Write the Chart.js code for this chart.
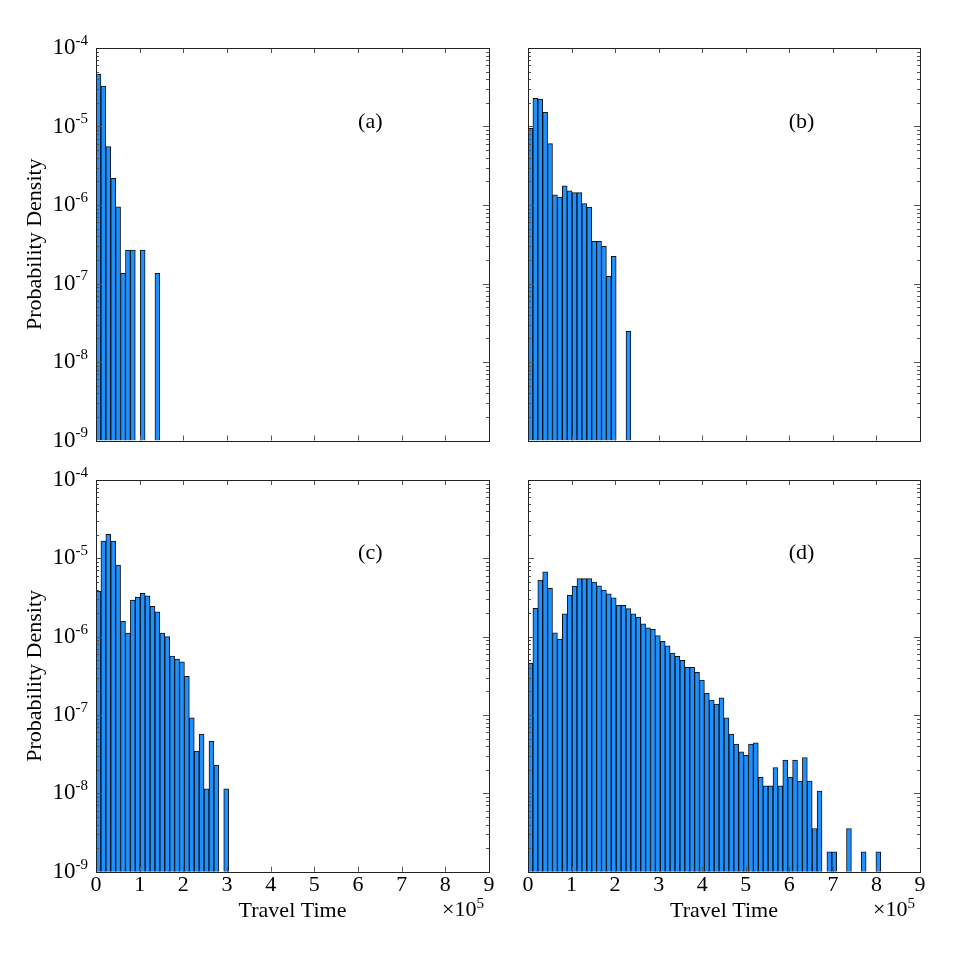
<!DOCTYPE html>
<html>
<head>
<meta charset="utf-8">
<script src="https://cdn.jsdelivr.net/npm/chart.js@4.4.0/dist/chart.umd.min.js"></script>
<style>
  html, body { margin: 0; background: #fff; }
  #wrap { position: relative; width: 969px; height: 969px; }
  #wrap canvas { position: absolute; left: 0; top: 0; }
</style>
</head>
<body>
<div id="wrap">
  <canvas id="pa" width="969" height="969"></canvas>
  <canvas id="pb" width="969" height="969"></canvas>
  <canvas id="pc" width="969" height="969"></canvas>
  <canvas id="pd" width="969" height="969"></canvas>
</div>
<script>
// histogram bins: 80 bins over 0 .. 9e5
const binWidth = 11250;
const xTickValues = [0, 1, 2, 3, 4, 5, 6, 7, 8, 9];   // in units of 1e5
const yDecades = [-9, -8, -7, -6, -5, -4];

// probability density per bin (null = empty bin)
const seriesA = [4.67e-5, 3.28e-5, 5.53e-6, 2.19e-6, 9.5e-7, 1.35e-7, 2.67e-7, 2.67e-7,
  null, 2.67e-7, null, null, 1.35e-7];
const seriesB = [9.5e-6, 2.29e-5, 2.24e-5, 1.51e-5, 6.04e-6, 1.35e-6, 1.26e-6, 1.75e-6,
  1.52e-6, 1.44e-6, 1.44e-6, 1.04e-6, 9.4e-7, 3.44e-7, 3.44e-7, 2.97e-7, 1.23e-7, 2.22e-7,
  null, null, 2.46e-8];
const seriesC = [3.82e-6, 1.66e-5, 2.02e-5, 1.66e-5, 8.2e-6, 1.57e-6, 1.11e-6, 2.93e-6,
  3.2e-6, 3.57e-6, 3.33e-6, 2.44e-6, 2.08e-6, 1.11e-6, 1.0e-6, 5.65e-7, 5.17e-7, 4.78e-7,
  3.11e-7, 9.2e-8, 3.46e-8, 5.7e-8, 1.14e-8, 4.6e-8, 2.29e-8, null, 1.14e-8];
const seriesD = [4.6e-7, 2.3e-6, 5.28e-6, 6.75e-6, 4.13e-6, 1.12e-6, 9.3e-7, 1.96e-6,
  3.37e-6, 4.43e-6, 5.5e-6, 5.5e-6, 5.5e-6, 4.98e-6, 4.47e-6, 3.94e-6, 3.53e-6, 3.14e-6,
  2.51e-6, 2.52e-6, 2.28e-6, 1.96e-6, 1.78e-6, 1.46e-6, 1.3e-6, 1.24e-6, 1.03e-6, 8.7e-7,
  7.66e-7, 6.18e-7, 5.6e-7, 4.98e-7, 4.06e-7, 4.06e-7, 3.5e-7, 2.79e-7, 1.89e-7, 1.55e-7,
  1.38e-7, 1.66e-7, 9.2e-8, 5.7e-8, 4.25e-8, 3.39e-8, 3.05e-8, 4.25e-8, 4.4e-8, 1.6e-8,
  1.25e-8, 1.25e-8, 2.14e-8, 1.25e-8, 2.65e-8, 1.6e-8, 2.65e-8, 1.43e-8, 2.87e-8, 1.43e-8,
  3.56e-9, 1.07e-8, null, 1.79e-9, 1.79e-9, null, null, 3.56e-9, null, null, 1.79e-9,
  null, null, 1.79e-9];

const SERIF = '"Liberation Serif", "Times New Roman", Times, serif';

function toPoints(vals) {
  return vals.map((v, i) => v == null ? null : { x: (i + 0.5) * binWidth, y: v })
    .filter(p => p);
}

// frame, inward ticks and all the text around a panel
const framePlugin = {
  id: 'frame',
  afterDatasetsDraw(chart, args, opts) {
    const { ctx, chartArea: a, scales: { x, y } } = chart;
    ctx.save();

    ctx.strokeStyle = '#555';
    ctx.lineWidth = 1;
    ctx.beginPath();
    xTickValues.forEach(t => {
      const px = Math.round(x.getPixelForValue(t * 1e5)) + 0.5;
      ctx.moveTo(px, a.bottom); ctx.lineTo(px, a.bottom - 5);
      ctx.moveTo(px, a.top); ctx.lineTo(px, a.top + 5);
    });
    yDecades.forEach(d => {
      for (let k = 1; k < 10; k++) {
        if (d === -4 && k > 1) break;
        const py = Math.round(y.getPixelForValue(k * Math.pow(10, d))) + 0.5;
        const len = k === 1 ? 6 : 3;
        ctx.moveTo(a.left, py); ctx.lineTo(a.left + len, py);
        ctx.moveTo(a.right, py); ctx.lineTo(a.right - len, py);
      }
    });
    ctx.stroke();

    ctx.strokeStyle = '#222';
    ctx.strokeRect(Math.round(a.left) + 0.5, Math.round(a.top) + 0.5,
      Math.round(a.right - a.left), Math.round(a.bottom - a.top));

    ctx.fillStyle = '#000';
    ctx.textBaseline = 'middle';

    if (opts.yLabels) {
      yDecades.forEach(d => {
        const py = y.getPixelForValue(Math.pow(10, d));
        const ex = String(d);
        ctx.font = '15px ' + SERIF;
        const ew = ctx.measureText(ex).width;
        ctx.textAlign = 'left';
        ctx.fillText(ex, a.left - 8 - ew, py - 7);
        ctx.font = '23px ' + SERIF;
        ctx.textAlign = 'right';
        ctx.fillText('10', a.left - 8 - ew, py);
      });
      ctx.save();
      ctx.translate(35, (a.top + a.bottom) / 2);
      ctx.rotate(-Math.PI / 2);
      ctx.textAlign = 'center';
      ctx.font = '22px ' + SERIF;
      ctx.fillText('Probability Density', 0, 0);
      ctx.restore();
    }

    if (opts.xLabels) {
      ctx.font = '22px ' + SERIF;
      ctx.textAlign = 'center';
      xTickValues.forEach(t => {
        ctx.fillText(String(t), x.getPixelForValue(t * 1e5), a.bottom + 14);
      });
      ctx.fillText('Travel Time', (a.left + a.right) / 2, a.bottom + 40);
      ctx.textAlign = 'left';
      const sx = a.right - 47;
      ctx.fillText('\u00d710', sx, a.bottom + 39);
      const w = ctx.measureText('\u00d710').width;
      ctx.font = '15px ' + SERIF;
      ctx.fillText('5', sx + w, a.bottom + 32);
    }

    ctx.font = '22px ' + SERIF;
    ctx.textAlign = 'center';
    ctx.fillText(opts.label, a.left + 0.698 * (a.right - a.left), a.top + 0.188 * (a.bottom - a.top));
    ctx.restore();
  }
};

function makePanel(id, values, label, pad, yLabels, xLabels) {
  return new Chart(document.getElementById(id), {
    type: 'bar',
    data: {
      datasets: [{
        data: toPoints(values),
        backgroundColor: '#1e90ff',
        borderColor: '#111',
        borderWidth: 1,
        borderSkipped: 'start',
        barPercentage: 1,
        categoryPercentage: 1,
        grouped: false
      }]
    },
    options: {
      responsive: false,
      animation: false,
      events: [],
      layout: { padding: pad },
      plugins: {
        legend: { display: false },
        tooltip: { enabled: false },
        frame: { label: label, yLabels: yLabels, xLabels: xLabels }
      },
      scales: {
        x: { type: 'linear', min: 0, max: 9e5, offset: false, display: false, ticks: { stepSize: 1e5 } },
        y: { type: 'logarithmic', min: 1e-9, max: 1e-4, display: false }
      }
    },
    plugins: [framePlugin]
  });
}

makePanel('pa', seriesA, '(a)', { left: 96, right: 480, top: 48, bottom: 528.5 }, true, false);
makePanel('pb', seriesB, '(b)', { left: 528, right: 49, top: 48, bottom: 528.5 }, false, false);
makePanel('pc', seriesC, '(c)', { left: 96, right: 480, top: 480, bottom: 97.3 }, true, true);
makePanel('pd', seriesD, '(d)', { left: 528, right: 49, top: 480, bottom: 97.3 }, false, true);
</script>
</body>
</html>
